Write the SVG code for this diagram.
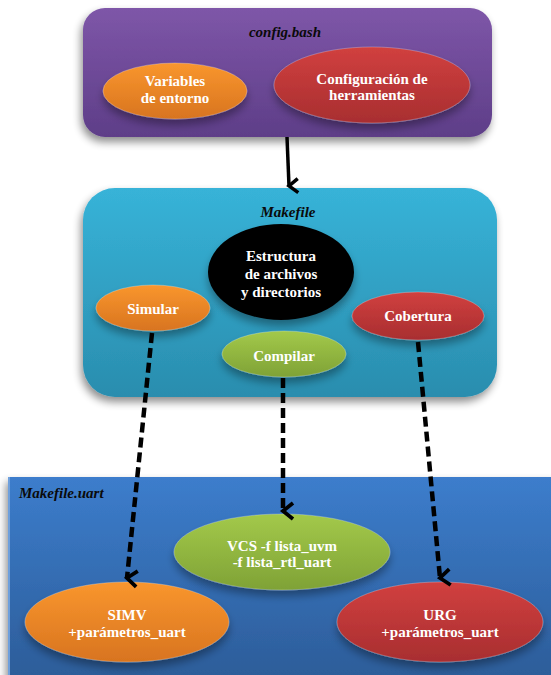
<svg xmlns="http://www.w3.org/2000/svg" width="551" height="675" viewBox="0 0 551 675">
<defs>
<linearGradient id="gPurple" x1="0" y1="0" x2="0" y2="1"><stop offset="0" stop-color="#7E56A8"/><stop offset="1" stop-color="#5E3E88"/></linearGradient>
<linearGradient id="gCyan" x1="0" y1="0" x2="0" y2="1"><stop offset="0" stop-color="#37B3D8"/><stop offset="1" stop-color="#2A8DAE"/></linearGradient>
<linearGradient id="gBlue" x1="0" y1="0" x2="0" y2="1"><stop offset="0" stop-color="#3C7DCC"/><stop offset="1" stop-color="#2C5C98"/></linearGradient>
<linearGradient id="gOrange" x1="0" y1="0" x2="0" y2="1"><stop offset="0" stop-color="#F9962E"/><stop offset="1" stop-color="#D8741F"/></linearGradient>
<linearGradient id="gRed" x1="0" y1="0" x2="0" y2="1"><stop offset="0" stop-color="#D1403F"/><stop offset="1" stop-color="#A82E30"/></linearGradient>
<linearGradient id="gGreen" x1="0" y1="0" x2="0" y2="1"><stop offset="0" stop-color="#A3C94A"/><stop offset="1" stop-color="#7FA236"/></linearGradient>
<filter id="sh" x="-20%" y="-20%" width="140%" height="150%"><feGaussianBlur in="SourceAlpha" stdDeviation="4"/><feOffset dx="-2" dy="5"/><feComponentTransfer><feFuncA type="linear" slope="0.45"/></feComponentTransfer><feMerge><feMergeNode/><feMergeNode in="SourceGraphic"/></feMerge></filter>
<filter id="esh" x="-20%" y="-30%" width="140%" height="170%"><feGaussianBlur in="SourceAlpha" stdDeviation="4"/><feOffset dx="0" dy="6"/><feComponentTransfer><feFuncA type="linear" slope="0.35"/></feComponentTransfer><feMerge><feMergeNode/><feMergeNode in="SourceGraphic"/></feMerge></filter>
<marker id="chev" markerWidth="20" markerHeight="20" viewBox="0 0 20 20" refX="10" refY="15" orient="auto" markerUnits="userSpaceOnUse" overflow="visible"><path d="M3,6 L10,15 L17,6" fill="none" stroke="#000" stroke-width="3.5"/></marker>
<marker id="chevd" markerWidth="20" markerHeight="20" viewBox="0 0 20 20" refX="10" refY="15" orient="auto" markerUnits="userSpaceOnUse" overflow="visible"><path d="M2,5 L10,15 L18,5" fill="none" stroke="#000" stroke-width="3.8"/></marker>
</defs>
<style>
.t{font-family:"Liberation Serif","Times New Roman",serif;font-weight:bold;fill:#fff;text-anchor:middle;font-size:15px}
.ti{font-family:"Liberation Serif","Times New Roman",serif;font-weight:bold;font-style:italic;fill:#0a0a0a;font-size:15px}
.dash{stroke:#000;stroke-width:4.5;stroke-dasharray:10 5;fill:none}
.ell{stroke:#fff;stroke-opacity:0.25;stroke-width:1}
</style>
<rect width="551" height="675" fill="#fff"/>

<g id="config-bash">
<rect x="83" y="8" width="409" height="129" rx="22" fill="url(#gPurple)" filter="url(#sh)"/>
<text class="ti" x="285" y="37" text-anchor="middle">config.bash</text>
</g>
<g id="variables-entorno">
<ellipse cx="175" cy="91" rx="72" ry="28" fill="url(#gOrange)" class="ell" filter="url(#esh)"/>
<text class="t" x="175" y="86">Variables</text>
<text class="t" x="175" y="103">de entorno</text>
</g>
<g id="config-herramientas">
<ellipse cx="372" cy="85" rx="98" ry="38" fill="url(#gRed)" class="ell" filter="url(#esh)"/>
<text class="t" x="372" y="84">Configuración de</text>
<text class="t" x="372" y="100">herramientas</text>
</g>

<g id="makefile">
<rect x="83" y="188" width="414" height="209" rx="32" fill="url(#gCyan)" filter="url(#sh)"/>
<text class="ti" x="288" y="217" text-anchor="middle">Makefile</text>
</g>
<g id="estructura">
<ellipse cx="281" cy="272" rx="73" ry="48" fill="#000" filter="url(#esh)"/>
<text class="t" x="281" y="261">Estructura</text>
<text class="t" x="281" y="279">de archivos</text>
<text class="t" x="281" y="297">y directorios</text>
</g>
<g id="simular">
<ellipse cx="153" cy="308" rx="57" ry="23" fill="url(#gOrange)" class="ell" filter="url(#esh)"/>
<text class="t" x="153" y="314">Simular</text>
</g>
<g id="cobertura">
<ellipse cx="418" cy="316" rx="66" ry="24" fill="url(#gRed)" class="ell" filter="url(#esh)"/>
<text class="t" x="418" y="321">Cobertura</text>
</g>
<g id="compilar">
<ellipse cx="284" cy="354" rx="62" ry="23" fill="url(#gGreen)" class="ell" filter="url(#esh)"/>
<text class="t" x="284" y="361">Compilar</text>
</g>

<g id="makefile-uart">
<rect x="8" y="477" width="550" height="205" fill="url(#gBlue)" filter="url(#sh)"/>
<rect x="8" y="477" width="2" height="205" fill="#6FA0DC"/>
<text class="ti" x="19" y="498" font-size="14">Makefile.uart</text>
</g>
<g id="vcs">
<ellipse cx="282" cy="552" rx="108" ry="38" fill="url(#gGreen)" class="ell" filter="url(#esh)"/>
<text class="t" x="282" y="551" font-size="16">VCS -f lista_uvm</text>
<text class="t" x="282" y="567" font-size="16">-f lista_rtl_uart</text>
</g>
<g id="simv">
<ellipse cx="127" cy="622" rx="102" ry="40" fill="url(#gOrange)" class="ell" filter="url(#esh)"/>
<text class="t" x="127" y="620" font-size="16">SIMV</text>
<text class="t" x="127" y="637" font-size="16">+parámetros_uart</text>
</g>
<g id="urg">
<ellipse cx="440" cy="622" rx="103" ry="40" fill="url(#gRed)" class="ell" filter="url(#esh)"/>
<text class="t" x="440" y="620" font-size="16">URG</text>
<text class="t" x="440" y="637" font-size="16">+parámetros_uart</text>
</g>

<g id="connectors">
<line x1="287" y1="137" x2="289" y2="186" stroke="#000" stroke-width="3.5" marker-end="url(#chev)"/>
<line class="dash" x1="152" y1="333" x2="127" y2="578" marker-end="url(#chevd)"/>
<line class="dash" x1="283" y1="378" x2="283" y2="511" marker-end="url(#chevd)"/>
<line class="dash" x1="418" y1="342" x2="440" y2="578" marker-end="url(#chevd)"/>
</g>
</svg>
